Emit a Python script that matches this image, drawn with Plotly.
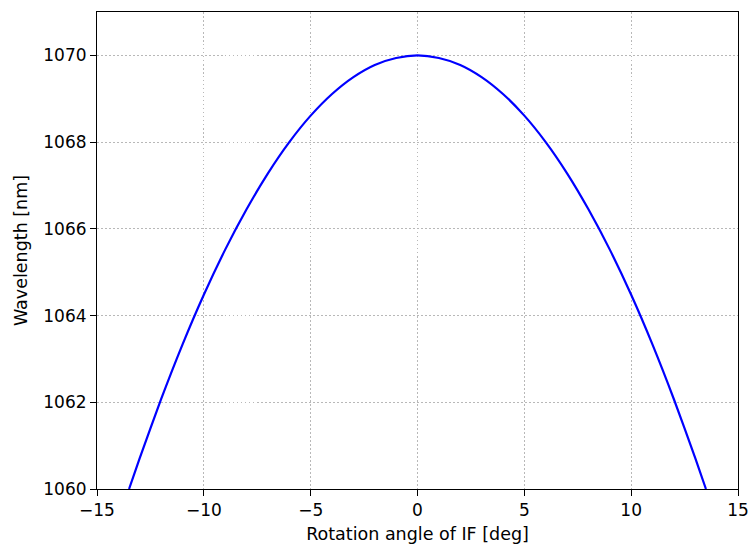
import plotly.graph_objects as go

# Rotation angle (deg) and wavelength (nm)
angle = [-13.5, -13, -12, -11, -10, -9, -8, -7, -6, -5, -4, -3, -2, -1, 0,
         1, 2, 3, 4, 5, 6, 7, 8, 9, 10, 11, 12, 13, 13.5]
wavelength = [1060.00, 1060.71, 1062.07, 1063.33, 1064.48, 1065.52, 1066.45, 1067.28,
              1068.00, 1068.61, 1069.11, 1069.50, 1069.78, 1069.94, 1070.00,
              1069.94, 1069.78, 1069.50, 1069.11, 1068.61, 1068.00, 1067.28,
              1066.45, 1065.52, 1064.48, 1063.33, 1062.07, 1060.71, 1060.00]

x_ticks = [-15, -10, -5, 0, 5, 10, 15]
x_tick_text = ["\u221215", "\u221210", "\u22125", "0", "5", "10", "15"]
y_ticks = [1060, 1062, 1064, 1066, 1068, 1070]

fig = go.Figure()
fig.add_trace(go.Scatter(x=angle, y=wavelength, mode="lines",
                         line=dict(color="#0000ff", width=2.2, shape="spline", smoothing=0.6),
                         showlegend=False))

axis_common = dict(showline=True, linecolor="black", linewidth=1.1, mirror=True,
                   ticks="outside", ticklen=6, tickwidth=1.1, tickcolor="black",
                   showgrid=True, gridcolor="#b8b8b8", gridwidth=1, griddash="1.5px,2.5px",
                   zeroline=False, automargin=False,
                   tickfont=dict(size=17, color="black"))

fig.update_xaxes(range=[-15, 15], tickvals=x_ticks, ticktext=x_tick_text,
                 title=dict(text="Rotation angle of IF [deg]", font=dict(size=17.5, color="black"), standoff=9),
                 **axis_common)
fig.update_yaxes(range=[1060, 1071], tickvals=y_ticks,
                 title=dict(text="Wavelength [nm]", font=dict(size=17.5, color="black"), standoff=11),
                 **axis_common)

fig.update_layout(width=749, height=544, margin=dict(l=97, r=11, t=12, b=55),
                  plot_bgcolor="white", paper_bgcolor="white",
                  font=dict(family="DejaVu Sans", color="black"))

fig.write_html("out.html")
